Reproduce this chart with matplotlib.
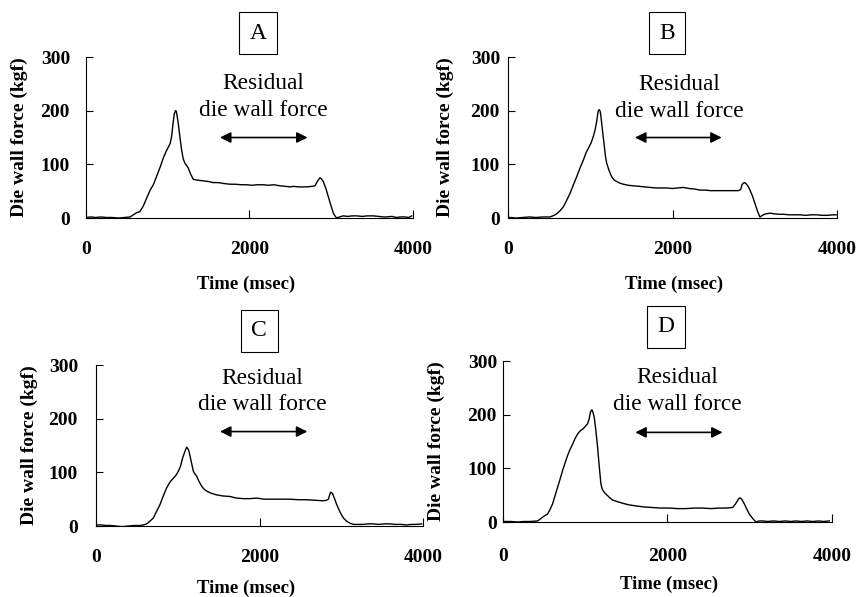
import matplotlib
matplotlib.use('Agg')
import matplotlib.pyplot as plt

plt.rcParams['font.family'] = ['Liberation Serif', 'DejaVu Serif']

# die wall force (kgf) against time (msec)
timeA = [0, 60, 120, 180, 250, 320, 400, 470, 540, 580, 620, 660, 700, 742, 785, 824, 860, 885,
         915, 946, 980, 1007, 1030, 1048, 1065, 1080, 1095, 1105, 1115, 1129, 1150, 1170, 1190,
         1211, 1235, 1252, 1280, 1313, 1350, 1394, 1450, 1500, 1557, 1620, 1700, 1761, 1820,
         1900, 1966, 2030, 2100, 2169, 2230, 2300, 2373, 2440, 2500, 2536, 2600, 2650, 2699,
         2760, 2801, 2830, 2862, 2880, 2903, 2935, 2964, 2995, 3026, 3050, 3067, 3100, 3148,
         3200, 3260, 3312, 3380, 3440, 3515, 3580, 3640, 3678, 3740, 3800, 3841, 3900, 3950, 3984]
forceA = [1, 2, 1, 2, 1, 1, 0, 1, 2, 6, 10, 12, 22, 37, 52, 62, 76, 86,
          98, 112, 124, 132, 139, 152, 176, 194, 200, 199, 190, 176, 150, 127, 110,
          102, 97, 93, 82, 72, 71, 70, 69, 68, 66, 66, 64, 63, 63,
          62, 62, 61, 62, 62, 61, 62, 60, 59, 58, 59, 58, 58, 58,
          59, 60, 68, 75, 73, 68, 55, 40, 24, 9, 3, 0, 2, 4,
          3, 4, 4, 3, 4, 4, 3, 2, 2, 3, 1, 2, 2, 1, 4]

timeB = [0, 24, 100, 180, 260, 340, 420, 511, 560, 592, 630, 673, 710, 754, 795, 835, 875, 916,
         950, 977, 1010, 1037, 1060, 1078, 1095, 1106, 1118, 1127, 1145, 1167, 1185, 1200, 1230,
         1260, 1290, 1321, 1360, 1402, 1460, 1524, 1600, 1660, 1727, 1800, 1870, 1929, 2000,
         2060, 2131, 2200, 2270, 2334, 2400, 2460, 2537, 2600, 2680, 2740, 2800, 2829, 2845,
         2861, 2878, 2894, 2915, 2934, 2970, 3003, 3035, 3063, 3085, 3104, 3140, 3185, 3230,
         3290, 3347, 3420, 3480, 3550, 3620, 3690, 3753, 3820, 3880, 3955, 3990]
forceB = [1, 1, 0, 1, 2, 1, 2, 2, 5, 8, 13, 21, 32, 46, 62, 77, 93, 108,
          122, 130, 140, 152, 165, 180, 198, 202, 200, 193, 168, 139, 115, 102, 88,
          77, 71, 68, 65, 63, 61, 60, 59, 58, 57, 56, 56, 56, 55,
          56, 57, 55, 54, 52, 52, 51, 51, 51, 51, 51, 51, 53, 62,
          65, 66, 64, 60, 55, 42, 27, 12, 2, 4, 6, 8, 9, 8,
          7, 7, 6, 6, 6, 5, 6, 6, 5, 5, 6, 6]

timeC = [0, 60, 120, 180, 240, 300, 334, 400, 470, 538, 580, 620, 660, 701, 740, 783, 820, 864,
         905, 946, 980, 1007, 1035, 1060, 1085, 1109, 1125, 1138, 1165, 1191, 1210, 1231, 1260,
         1293, 1320, 1354, 1410, 1476, 1550, 1639, 1720, 1802, 1880, 1965, 2060, 2169, 2260,
         2373, 2470, 2577, 2680, 2781, 2820, 2842, 2858, 2870, 2882, 2895, 2920, 2944, 2985,
         3026, 3065, 3108, 3150, 3189, 3260, 3330, 3393, 3460, 3530, 3596, 3660, 3730, 3800,
         3860, 3920, 3984]
forceC = [2, 2, 1, 1, 0, -1, -1, 0, 1, 1, 2, 4, 9, 15, 27, 40, 55, 71,
          82, 89, 95, 102, 112, 127, 138, 147, 144, 139, 120, 102, 97, 93, 83,
          74, 69, 65, 61, 58, 56, 55, 52, 51, 51, 52, 50, 50, 50,
          50, 49, 49, 48, 47, 48, 50, 58, 63, 62, 60, 50, 40, 26,
          15, 9, 5, 3, 3, 3, 4, 4, 3, 4, 4, 3, 3, 2,
          3, 3, 4]

timeD = [0, 36, 100, 180, 250, 330, 421, 450, 482, 510, 543, 575, 604, 635, 665, 695, 725, 755,
         786, 815, 847, 878, 908, 940, 969, 1000, 1029, 1048, 1062, 1075, 1082, 1095, 1110,
         1130, 1151, 1170, 1191, 1205, 1220, 1245, 1273, 1300, 1333, 1390, 1455, 1530, 1617,
         1720, 1820, 1920, 2022, 2120, 2225, 2330, 2427, 2530, 2630, 2710, 2792, 2825, 2853,
         2870, 2885, 2905, 2934, 2965, 2995, 3035, 3076, 3115, 3157, 3220, 3290, 3360, 3430,
         3500, 3562, 3630, 3700, 3765, 3840, 3900, 3968]
forceD = [1, 1, 1, 0, 1, 1, 2, 5, 9, 12, 15, 24, 34, 50, 65, 80, 96, 110,
          124, 135, 145, 156, 164, 170, 173, 178, 183, 192, 204, 208, 209, 204, 195,
          170, 139, 105, 71, 62, 58, 53, 49, 45, 41, 38, 35, 32, 30,
          28, 27, 26, 26, 25, 25, 26, 26, 25, 26, 26, 27, 33, 40,
          44, 45, 42, 34, 24, 15, 7, 0, 2, 2, 1, 2, 1, 2,
          1, 2, 1, 2, 1, 2, 1, 2]

panel_names = ['A', 'B', 'C', 'D']
times = [timeA, timeB, timeC, timeD]
forces = [forceA, forceB, forceC, forceD]

x_ticks = [0, 2000, 4000]
y_ticks = [0, 100, 200, 300]

# layout per panel (figure fractions / axes fractions)
rects = [[0.1002, 0.6348, 0.3811, 0.2697],
         [0.5921, 0.6348, 0.3834, 0.2697],
         [0.1119, 0.1189, 0.3811, 0.2697],
         [0.5862, 0.1256, 0.3834, 0.2697]]
ytick_pads = [11.5, 5.8, 13, 4.3]
xtick_pads = [16.5, 16.5, 16.5, 18.5]
ylabel_x = [-0.177, -0.165, -0.177, -0.176]
xlabel_pos = [(0.49, -0.36), (0.505, -0.36), (0.46, -0.335), (0.505, -0.333)]
box_pos = [(0.3007, 0.9447), (0.7774, 0.9447), (0.3019, 0.4456), (0.7762, 0.4523)]
note_pos = [(2169, 225), (2079, 224), (2035, 251), (2124, 244)]
arrow_span = [(1639, 2711, 150), (1544, 2598, 150), (1517, 2585, 176), (1609, 2671, 167)]

fig = plt.figure(figsize=(8.58, 5.97), dpi=100)

for i in range(4):
    ax = fig.add_axes(rects[i])
    ax.plot(times[i], forces[i], color='black', lw=1.0)
    ax.set_xlim(0, 4000)
    ax.set_ylim(0, 300)
    ax.set_xticks(x_ticks)
    ax.set_yticks(y_ticks)
    ax.spines['top'].set_visible(False)
    ax.spines['right'].set_visible(False)
    ax.spines['left'].set_linewidth(0.8)
    ax.spines['bottom'].set_linewidth(0.8)
    ax.tick_params(axis='x', direction='in', length=6, width=0.8, pad=xtick_pads[i])
    ax.tick_params(axis='y', direction='in', length=5, width=0.8, pad=ytick_pads[i])
    for lab in ax.get_xticklabels() + ax.get_yticklabels():
        lab.set_fontweight('bold')
        lab.set_fontsize(14)
    ax.set_ylabel('Die wall force (kgf)', fontweight='bold', fontsize=14)
    ax.set_xlabel('Time (msec)', fontweight='bold', fontsize=13.5)
    ax.yaxis.set_label_coords(ylabel_x[i], 0.5)
    ax.xaxis.set_label_coords(xlabel_pos[i][0], xlabel_pos[i][1])

    # residual force annotation
    ax.text(note_pos[i][0], note_pos[i][1], 'Residual\ndie wall force',
            ha='center', va='center', fontsize=16.8, linespacing=1.35)
    x0, x1, ya = arrow_span[i]
    ax.annotate('', xy=(x1, ya), xytext=(x0, ya),
                arrowprops=dict(arrowstyle='<|-|>', color='black', lw=1.2,
                                mutation_scale=16, shrinkA=0, shrinkB=0))

    fig.text(box_pos[i][0], box_pos[i][1], panel_names[i], ha='center', va='center',
             fontsize=17, bbox=dict(boxstyle='square,pad=0.45', fc='white', ec='black', lw=0.8))

fig.savefig('out.png', dpi=100)
